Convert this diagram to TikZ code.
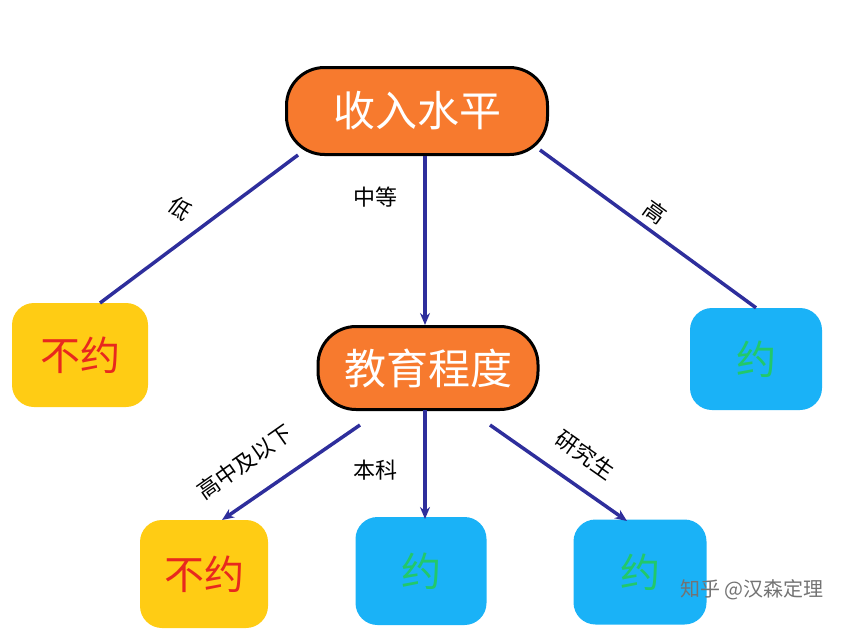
\documentclass[tikz,border=0pt]{standalone}
\usepackage{fontspec}
\newfontfamily\cjk{Noto Sans CJK SC}
\usetikzlibrary{arrows.meta}
\definecolor{org}{HTML}{F77A2E}
\definecolor{yel}{HTML}{FFCC14}
\definecolor{blu}{HTML}{1AB2F7}
\definecolor{edg}{HTML}{2E2E9C}
\definecolor{grn}{HTML}{22C86A}
\definecolor{rd}{HTML}{E8281E}
\begin{document}
\begin{tikzpicture}[x=1pt,y=-1pt,
  attr/.style={draw=black,line width=3pt,fill=org,rounded corners=38pt,text=white,font=\cjk\fontsize{42}{44}\selectfont,inner sep=0pt},
  no/.style={fill=yel,rounded corners=22pt,text=rd,font=\cjk\fontsize{40}{42}\selectfont,inner sep=0pt},
  yes/.style={fill=blu,rounded corners=22pt,text=grn,font=\cjk\fontsize{40}{42}\selectfont,inner sep=0pt},
  e/.style={draw=edg,line width=3.5pt},
  a/.style={e,-{Stealth[length=12pt,width=10pt]}},
  lab/.style={font=\cjk\fontsize{22}{24}\selectfont,text=black}]
\useasboundingbox (0,0) rectangle (858,642);
\node[attr,minimum width=261pt,minimum height=87pt] (inc) at (417,111) {收入水平};
\node[attr,minimum width=220pt,minimum height=83pt] (edu) at (428,368) {教育程度};
\node[no,minimum width=136pt,minimum height=104pt] (n1) at (80,355) {不约};
\node[yes,minimum width=132pt,minimum height=102pt] (y1) at (756,359) {约};
\node[no,minimum width=128pt,minimum height=108pt] (n2) at (204,574) {不约};
\node[yes,minimum width=131pt,minimum height=108pt] (y2) at (421,571) {约};
\node[yes,minimum width=133pt,minimum height=105pt] (y3) at (640,572) {约};
\coordinate (i1) at (298,155); \coordinate (i3) at (540,150);
\coordinate (n1t) at (100,303);
\draw[e] (i1) -- (n1t);
\node[lab,rotate=-37] (l1) at (180,208) {低};
\draw[a] (425,156) coordinate (i2) -- (425,325) coordinate (eduT);
\node[lab] (l2) at (375,197) {中等};
\draw[e] (i3) -- (y1.north);
\node[lab,rotate=-36] (l3) at (655,212) {高};
\coordinate (e1) at (360,425); \coordinate (e3) at (490,425);
\draw[a] (e1) -- (222,520) coordinate (t1);
\node[lab,rotate=35] (l4) at (245,462) {高中及以下};
\draw[a] (425,410) coordinate (e2) -- (425,519) coordinate (t2);
\node[lab] (l5) at (375,470) {本科};
\draw[a] (e3) -- (627,521) coordinate (t3);
\node[lab,rotate=-35] (l6) at (585,455) {研究生};
\node[font=\cjk\fontsize{20}{22}\selectfont,text=black!55] (wm) at (752,590) {知乎 @汉森定理};
\end{tikzpicture}
\end{document}
